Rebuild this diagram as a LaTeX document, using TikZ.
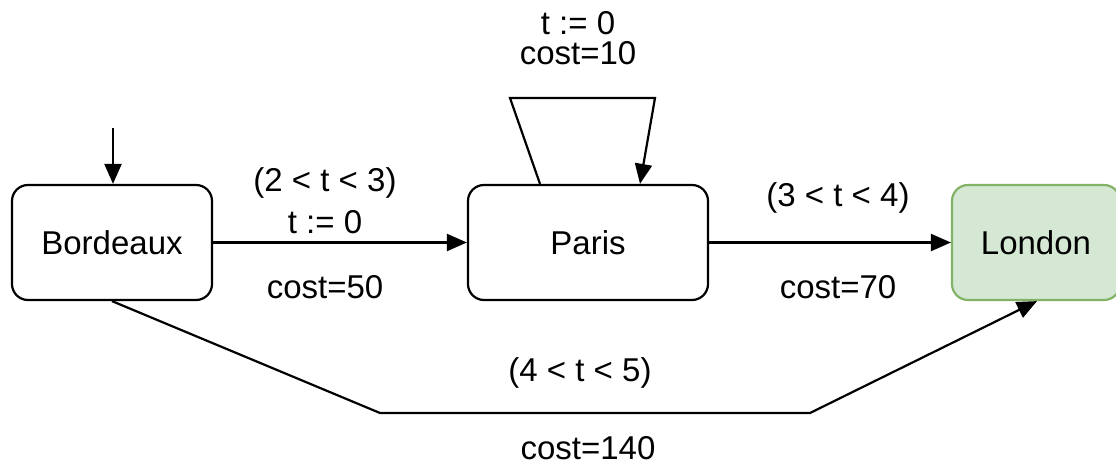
\documentclass[tikz,border=0pt]{standalone}
\usepackage{fontspec}
\setmainfont{Liberation Sans}
\usetikzlibrary{arrows.meta}
\definecolor{lgreen}{HTML}{D5E8D4}
\definecolor{dgreen}{HTML}{82B366}
\begin{document}
\begin{tikzpicture}[x=1pt,y=-1pt,
  state/.style={draw, line width=2.2pt, rounded corners=16pt, minimum width=200pt, minimum height=115pt, inner sep=0pt, font=\fontsize{33}{39}\selectfont},
  conn/.style={line width=2.2pt, -{Triangle[length=20pt,width=17pt]}},
  lbl/.style={font=\fontsize{33}{39}\selectfont, inner sep=0pt, align=center}]
\useasboundingbox (0,0) rectangle (1116,468);
\node[state] (b) at (112,242.5) {Bordeaux};
\node[state, minimum width=240pt] (p) at (588,242.5) {Paris};
\node[state, fill=lgreen, draw=dgreen, minimum width=168pt] (l) at (1036,242.5) {London};
\coordinate (s0) at (113,128);
\draw[conn] (s0) -- (b.north -| s0);
\draw[conn] (b.east) -- (p.west);
\node[lbl] (l1) at (325,183) {(2 < t < 3)};
\node[lbl] (l2) at (325,222) {t := 0};
\node[lbl] (l3) at (325,287) {cost=50};
\coordinate (q1) at (510,98);
\coordinate (q2) at (655,98);
\draw[conn] ([xshift=-48pt]p.north) -- (q1) -- (q2) -- ([xshift=52pt]p.north);
\node[lbl, font=\fontsize{33}{30}\selectfont] (l4) at (578,38) {t := 0\\cost=10};
\draw[conn] (p.east) -- (l.west);
\node[lbl] (l6) at (838,198) {(3 < t < 4)};
\node[lbl] (l7) at (838,287) {cost=70};
\coordinate (r1) at (380,413);
\coordinate (r2) at (810,413);
\draw[conn] (b.south) -- (r1) -- (r2) -- ([xshift=1pt]l.south);
\node[lbl] (l8) at (580,373) {(4 < t < 5)};
\node[lbl] (l9) at (588,448) {cost=140};
\end{tikzpicture}
\end{document}
